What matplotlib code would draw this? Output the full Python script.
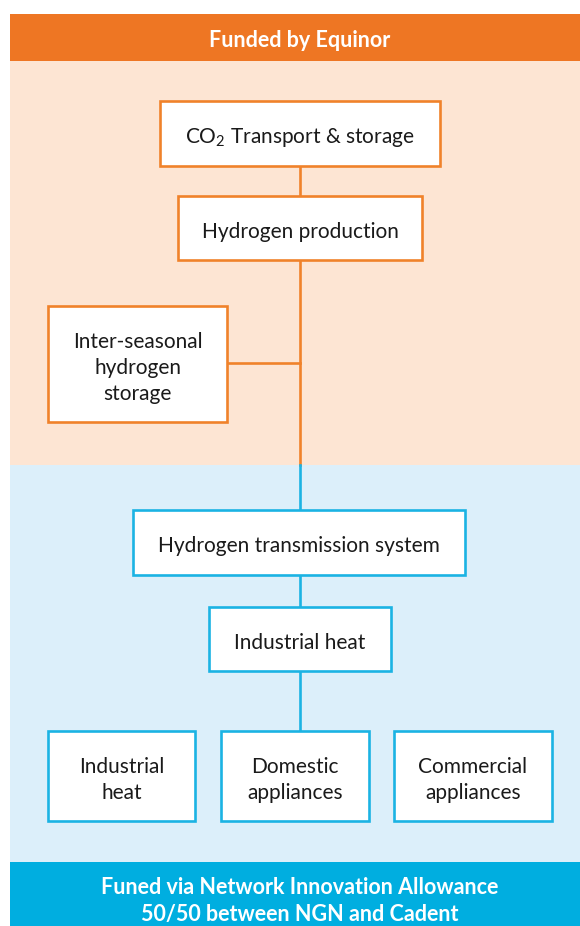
import matplotlib
matplotlib.use("Agg")
import matplotlib.pyplot as plt
from matplotlib.patches import Rectangle

plt.rcParams['font.family'] = ['Lato', 'DejaVu Sans']
plt.rcParams['mathtext.fontset'] = 'custom'
plt.rcParams['mathtext.rm'] = 'Lato'
plt.rcParams['mathtext.default'] = 'regular'

# ---- content ----
header_top = "Funded by Equinor"
header_bottom = "Funed via Network Innovation Allowance\n50/50 between NGN and Cadent"
orange_labels = ["CO$_2$ Transport & storage", "Hydrogen production",
                 "Inter-seasonal\nhydrogen\nstorage"]
blue_labels = ["Hydrogen transmission system", "Industrial heat"]
leaf_labels = ["Industrial\nheat", "Domestic\nappliances", "Commercial\nappliances"]

# ---- layout (pixel coords, y downward) ----
orange_boxes = [(160, 101, 440, 166), (178, 196, 422, 260), (48, 306, 227, 422)]
blue_boxes = [(133, 510, 465, 575), (209, 607, 391, 671)]
leaf_boxes = [(48, 731, 195, 821), (221, 731, 369, 821), (394, 731, 552, 821)]

ORANGE = "#EE7623"
ORANGE_LINE = "#F0822A"
PEACH = "#FDE5D3"
LIGHTBLUE = "#DCEFFA"
BLUE = "#00AEE0"
BLUE_LINE = "#1BB3E3"
TEXT = "#1a1a1a"

W, H = 580, 926
fig = plt.figure(figsize=(W / 100, H / 100), dpi=100)
ax = fig.add_axes([0, 0, 1, 1])
ax.set_xlim(0, W)
ax.set_ylim(H, 0)
ax.axis('off')

def rect(x0, y0, x1, y1, fc, ec='none', lw=0, z=1):
    ax.add_patch(Rectangle((x0, y0), x1 - x0, y1 - y0, facecolor=fc,
                           edgecolor=ec, linewidth=lw, zorder=z))

# background bands
rect(10, 14, W, 61, ORANGE)
rect(10, 61, W, 465, PEACH)
rect(10, 465, W, 862, LIGHTBLUE)
rect(10, 862, W, H, BLUE)

ax.text(300, 40.5, header_top, ha='center', va='center', color='white',
        fontsize=15.5, fontweight='bold')
ax.text(300, 901, header_bottom, ha='center', va='center', color='white',
        fontsize=15.5, fontweight='bold', linespacing=1.32)

cx = 300
lw_line = 1.9
# connectors
ax.plot([cx, cx], [166, 196], color=ORANGE_LINE, lw=lw_line, zorder=2)
ax.plot([cx, cx], [260, 465], color=ORANGE_LINE, lw=lw_line, zorder=2)
ax.plot([227, cx], [363, 363], color=ORANGE_LINE, lw=lw_line, zorder=2)
ax.plot([cx, cx], [465, 510], color=BLUE_LINE, lw=lw_line, zorder=2)
ax.plot([cx, cx], [575, 607], color=BLUE_LINE, lw=lw_line, zorder=2)
ax.plot([cx, cx], [671, 731], color=BLUE_LINE, lw=lw_line, zorder=2)

def box(b, label, ec):
    x0, y0, x1, y1 = b
    rect(x0, y0, x1, y1, 'white', ec=ec, lw=1.9, z=3)
    ax.text((x0 + x1) / 2, (y0 + y1) / 2 + 4, label, ha='center', va='center',
            color=TEXT, fontsize=15, linespacing=1.4, zorder=4)

for b, lab in zip(orange_boxes, orange_labels):
    box(b, lab, ORANGE_LINE)
for b, lab in zip(blue_boxes, blue_labels):
    box(b, lab, BLUE_LINE)
for b, lab in zip(leaf_boxes, leaf_labels):
    box(b, lab, BLUE_LINE)

fig.savefig("out.png", dpi=100, facecolor='white')
